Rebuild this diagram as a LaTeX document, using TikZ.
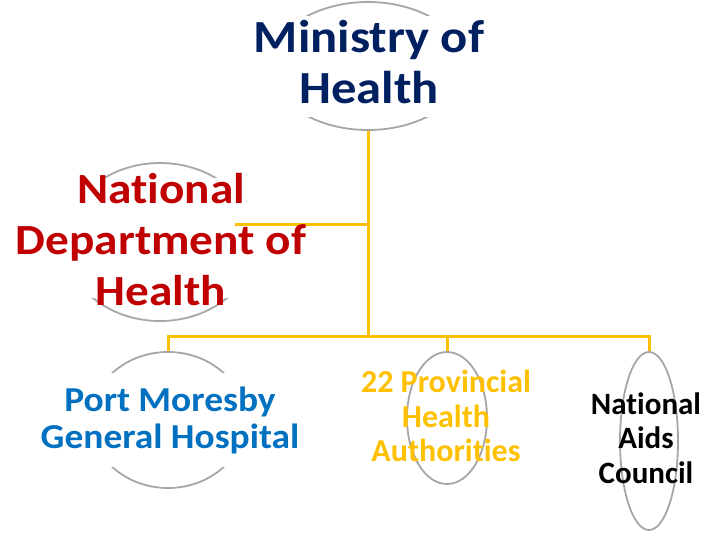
\documentclass[tikz,border=0pt]{standalone}
\usepackage{fontspec}
\setmainfont{Carlito}[Ligatures=NoCommon]
\newfontfamily\wideA{Carlito}[Ligatures=NoCommon,FakeStretch=1.1]
\newfontfamily\wideB{Carlito}[Ligatures=NoCommon,FakeStretch=1.07]
\usetikzlibrary{shapes.geometric}
\definecolor{navyT}{HTML}{002060}
\definecolor{redT}{HTML}{C00000}
\definecolor{blueT}{HTML}{0070C0}
\definecolor{goldT}{HTML}{FFC000}
\definecolor{grayO}{HTML}{A6A6A6}
\tikzset{
  oval/.style={ellipse, draw=grayO, line width=1.8pt, inner sep=0pt},
  cover/.style={fill=white},
  lbl/.style={align=center, inner sep=0pt},
  link/.style={draw=goldT, line width=3pt}
}
\begin{document}
\begin{tikzpicture}[x=1pt,y=-1pt]
\useasboundingbox (0,0) rectangle (705,533);
% ovals
\node[oval, minimum width=194pt, minimum height=128pt] (mohE) at (368,66) {};
\node[oval, minimum width=190pt, minimum height=158pt] (ndohE) at (160,242) {};
\node[oval, minimum width=154pt, minimum height=136pt] (pmghE) at (168,420) {};
\node[oval, minimum width=80pt, minimum height=132pt] (provE) at (447,418) {};
\node[oval, minimum width=58pt, minimum height=178pt] (nacE) at (649,441) {};
% white covers behind some labels
\fill[cover] (248,16) rectangle (490,117);
\fill[cover] (12,178) rectangle (312,298);
\fill[cover] (38,373) rectangle (302,467);
% connectors
\coordinate (ndohEnd) at (235,224);
\coordinate (j1) at (368,224);
\coordinate (bus) at (368,336);
\draw[link] (mohE.south) -- (bus);
\draw[link] (ndohEnd) -- (j1);
\draw[link] (pmghE.north) |- (bus) -| (nacE.north);
\draw[link] (provE.north) -- (provE.north |- bus);
% labels
\node[lbl, text=navyT, font=\wideA\bfseries\fontsize{46}{51}\selectfont] (moh) at (369,62) {Ministry of\\Health};
\node[lbl, text=redT, font=\wideA\bfseries\fontsize{43}{51}\selectfont] (ndoh) at (161,240) {National\\Department of\\Health};
\node[lbl, text=blueT, font=\wideB\bfseries\fontsize{35}{37}\selectfont] (pmgh) at (170,420) {Port Moresby\\General Hospital};
\node[lbl, text=goldT, font=\bfseries\fontsize{32}{34.5}\selectfont] (prov) at (446,416) {22 Provincial\\Health\\Authorities};
\node[lbl, text=black, font=\bfseries\fontsize{31}{34.5}\selectfont] (nac) at (646,438) {National\\Aids\\Council};
\end{tikzpicture}
\end{document}
